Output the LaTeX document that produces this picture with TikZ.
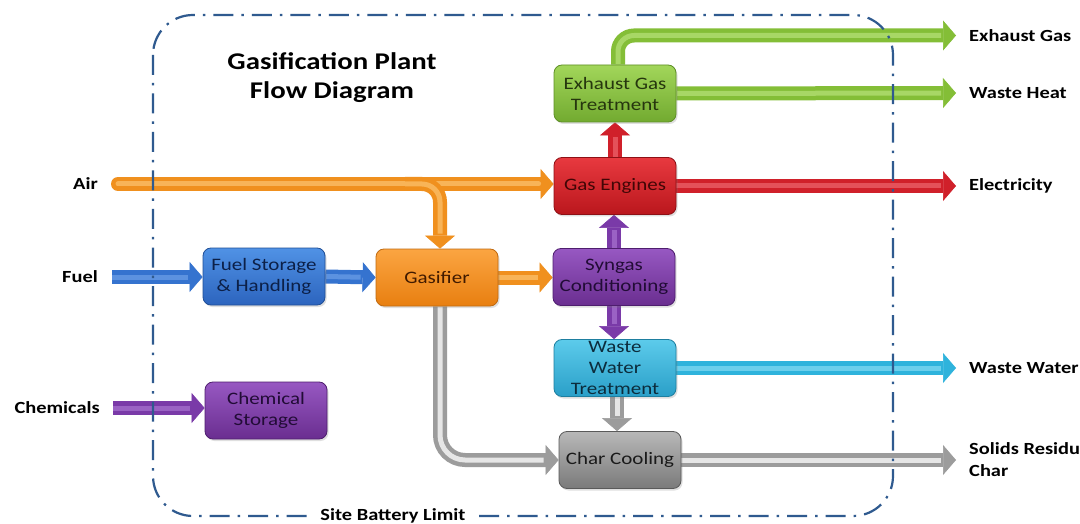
\documentclass[tikz,border=0pt]{standalone}
\usepackage{fontspec}
\setmainfont{Carlito}[FakeStretch=1.2]
\usetikzlibrary{arrows.meta,shadows}
\pgfdeclarelayer{bg}
\pgfsetlayers{bg,main}

\definecolor{bordC}{HTML}{2F5A8F}
% box colours
\definecolor{gTop}{HTML}{A2D65A}\definecolor{gBot}{HTML}{72AA30}\definecolor{gBrd}{HTML}{5E8F26}\definecolor{gTxt}{HTML}{26360E}
\definecolor{rTop}{HTML}{E8393F}\definecolor{rBot}{HTML}{BA171D}\definecolor{rBrd}{HTML}{8E1015}\definecolor{rTxt}{HTML}{420606}
\definecolor{pTop}{HTML}{9758C2}\definecolor{pBot}{HTML}{6A2E90}\definecolor{pBrd}{HTML}{4E1E6E}\definecolor{pTxt}{HTML}{220C36}
\definecolor{cTop}{HTML}{5CCBEB}\definecolor{cBot}{HTML}{2A9FC8}\definecolor{cBrd}{HTML}{1E7FA0}\definecolor{cTxt}{HTML}{0C2C3C}
\definecolor{kTop}{HTML}{B8B8B8}\definecolor{kBot}{HTML}{7A7A7A}\definecolor{kBrd}{HTML}{5A5A5A}\definecolor{kTxt}{HTML}{1A1A1A}
\definecolor{oTop}{HTML}{FBA542}\definecolor{oBot}{HTML}{E87F10}\definecolor{oBrd}{HTML}{C06A10}\definecolor{oTxt}{HTML}{401A00}
\definecolor{bTop}{HTML}{5092E5}\definecolor{bBot}{HTML}{2C64BE}\definecolor{bBrd}{HTML}{1F4E96}\definecolor{bTxt}{HTML}{0C2048}
% arrow colours
\definecolor{aOr}{HTML}{F0901E}\definecolor{aOrL}{HTML}{F8B458}
\definecolor{aBl}{HTML}{3573CF}\definecolor{aBlL}{HTML}{5C92E0}
\definecolor{aPu}{HTML}{7A3AA8}\definecolor{aPuL}{HTML}{9A62C4}
\definecolor{aRe}{HTML}{D0202A}\definecolor{aReL}{HTML}{E4515A}
\definecolor{aGr}{HTML}{84BE37}\definecolor{aGrL}{HTML}{A8D766}
\definecolor{aCy}{HTML}{2FB3DC}\definecolor{aCyL}{HTML}{6CCFEC}
\definecolor{aGy}{HTML}{9C9C9C}\definecolor{aGyL}{HTML}{E6E6E6}

\tikzset{
  pipe/.style 2 args={draw=#1, line width=14pt,
    -{Triangle[length=13pt,width=30pt,line width=0.6pt,fill=#1,color=#1]},
    postaction={draw=#2, line width=5pt, -, shorten >=15pt}},
  box/.style={rounded corners=8pt, inner sep=0pt, minimum width=122pt,
    minimum height=57pt, align=center, line width=0.8pt,
    font=\fontsize{17.5}{21}\selectfont,
    drop shadow={shadow xshift=1.5pt, shadow yshift=-2pt, opacity=0.25}},
  bgreen/.style={box, top color=gTop, bottom color=gBot, draw=gBrd, text=gTxt},
  bred/.style={box, top color=rTop, bottom color=rBot, draw=rBrd, text=rTxt},
  bpurple/.style={box, top color=pTop, bottom color=pBot, draw=pBrd, text=pTxt},
  bcyan/.style={box, top color=cTop, bottom color=cBot, draw=cBrd, text=cTxt},
  bgray/.style={box, top color=kTop, bottom color=kBot, draw=kBrd, text=kTxt},
  borange/.style={box, top color=oTop, bottom color=oBot, draw=oBrd, text=oTxt},
  bblue/.style={box, top color=bTop, bottom color=bBot, draw=bBrd, text=bTxt},
  lbl/.style={inner sep=0pt, font=\fontsize{17}{22}\selectfont\bfseries, text=black, align=left},
  limit/.style={draw=bordC, line width=2.2pt, rounded corners=40pt,
    dash pattern=on 20pt off 8pt on 2.5pt off 8pt},
}

\begin{document}
\begin{tikzpicture}[x=1pt,y=-1pt]
\useasboundingbox (0,0) rectangle (1080,524);

% title
\node[font=\fontsize{24}{29}\selectfont\bfseries, align=center] (title) at (332,78) {Gasification Plant\\Flow Diagram};

% boxes
\node[bgreen]  (EGT) at (615,93.5) {Exhaust Gas\\Treatment};
\node[bred]    (GE)  at (615,186)  {Gas Engines};
\node[bpurple] (SC)  at (614,277)  {Syngas\\Conditioning};
\node[bcyan]   (WW)  at (615,368)  {Waste\\Water\\Treatment};
\node[bgray]   (CC)  at (620,460)  {Char Cooling};
\node[borange] (GA)  at (437,277.5) {Gasifier};
\node[bblue]   (FS)  at (264,276.5) {Fuel Storage\\\& Handling};
\node[bpurple] (CS)  at (266,410.5) {Chemical\\Storage};

% outside labels
\node[lbl, anchor=east] (air)  at (98,184) {Air};
\node[lbl, anchor=east] (fuel) at (98,277) {Fuel};
\node[lbl, anchor=east] (chem) at (100,408) {Chemicals};
\node[lbl, anchor=west] (exh)  at (969,35.5) {Exhaust Gas};
\node[lbl, anchor=west] (heat) at (969,93) {Waste Heat};
\node[lbl, anchor=west] (elec) at (969,186) {Electricity};
\node[lbl, anchor=west] (wwat) at (969,368) {Waste Water};
\node[lbl, anchor=west] (sol)  at (969,460) {Solids Residue\\Char};

\begin{pgfonlayer}{bg}
\fill[white] (0,0) rectangle (1080,524);
\coordinate (airS) at ([xshift=20pt]air.east);
\coordinate (brS) at (405,184);
\draw[pipe={aOr}{aOrL}, line cap=round] (airS) -- (airS -| GE.west);
\draw[pipe={aOr}{aOrL}, rounded corners=18pt] (brS) -| ([xshift=3pt]GA.north);
\draw[pipe={aBl}{aBlL}] ([xshift=14pt]fuel.east) -- (fuel.east -| FS.west);
\draw[pipe={aBl}{aBlL}] (FS.east) -- (GA.west);
\draw[pipe={aPu}{aPuL}] ([xshift=13pt]chem.east) -- (chem.east -| CS.west);
\draw[pipe={aOr}{aOrL}] (GA.east) -- (GA.east -| SC.west);
\draw[pipe={aPu}{aPuL}] (SC.north) -- (SC.north |- GE.south);
\draw[pipe={aPu}{aPuL}] (SC.south) -- (SC.south |- WW.north);
\draw[pipe={aRe}{aReL}] (GE.north) -- (EGT.south);
\draw[pipe={aRe}{aReL}] (GE.east) -- ([xshift=-13pt]elec.west);
\draw[pipe={aGr}{aGrL}] (EGT.east) -- ([xshift=-13pt]heat.west);
\draw[pipe={aGr}{aGrL}, rounded corners=16pt] ([xshift=3pt]EGT.north) |- ([xshift=-13pt]exh.west);
\draw[pipe={aCy}{aCyL}] (WW.east) -- ([xshift=-13pt]wwat.west);
\draw[pipe={aGy}{aGyL}] ([xshift=2pt]WW.south) -- ([xshift=2pt]WW.south |- CC.north);
\draw[pipe={aGy}{aGyL}, rounded corners=25pt] ([xshift=3pt]GA.south) |- (CC.west);
\draw[pipe={aGy}{aGyL}] (CC.east) -- ([xshift=-13pt]sol.west);
% site battery limit
\draw[limit] (153,15) rectangle (893,516);
\end{pgfonlayer}
\node[lbl, fill=white, inner xsep=6pt, inner ysep=3pt] (sbl) at (393,516) {Site Battery Limit};
\end{tikzpicture}
\end{document}
